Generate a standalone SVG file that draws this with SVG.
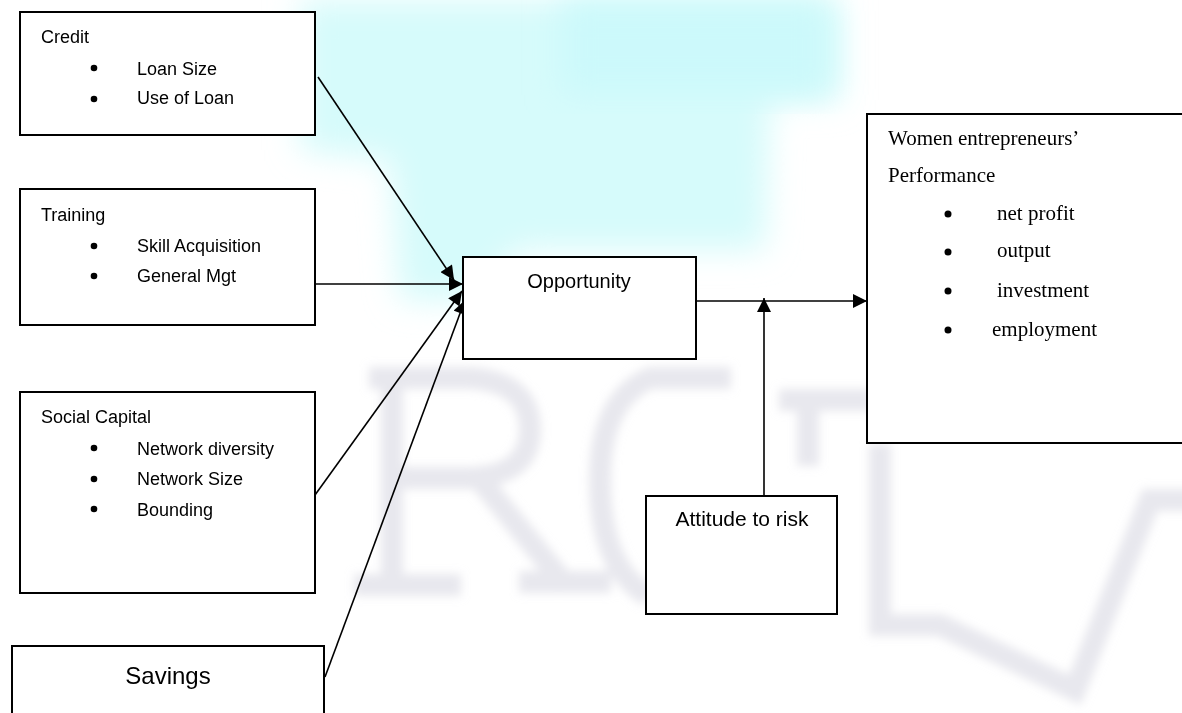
<svg xmlns="http://www.w3.org/2000/svg" width="1182" height="713" viewBox="0 0 1182 713">
<style>
.box{fill:#fff;stroke:#000;stroke-width:2}
.cal{font-family:"Liberation Sans",Arial,sans-serif;font-size:18px;fill:#000}
.big{font-size:24px}
.mid{font-size:20px}
.att{font-size:21px}
.tnr{font-family:"Liberation Serif","Times New Roman",serif;font-size:21px;fill:#000}
.bul{fill:#000}
.conn{stroke:#000;stroke-width:1.6;fill:none}
.wm{fill:none;stroke:#d6d6e0;stroke-width:22;stroke-linecap:square;opacity:0.55}
</style>
<defs>
<marker id="ah" viewBox="0 0 10 10" refX="10" refY="5" markerWidth="15" markerHeight="14" markerUnits="userSpaceOnUse" orient="auto">
<path d="M0,0 L10,5 L0,10 z" fill="#000"/>
</marker>
<filter id="blur" x="-20%" y="-20%" width="140%" height="140%"><feGaussianBlur stdDeviation="16"/></filter>
<filter id="blur2" x="-10%" y="-10%" width="120%" height="120%"><feGaussianBlur stdDeviation="5"/></filter>
</defs>
<rect width="1182" height="713" fill="#fff"/>
<g id="watermark">
<path d="M300,0 L840,0 L840,100 L770,100 L765,250 L520,250 L470,300 L400,300 L390,160 L300,150 z" fill="#d6fbfb" filter="url(#blur)"/>
<path d="M560,0 L830,0 L830,95 L560,95 z" fill="#ccf9fb" filter="url(#blur)"/>
<g filter="url(#blur2)">
<path class="wm" d="M392,385 L392,580 M365,585 L450,585 M380,378 L470,378 Q530,382 530,430 Q530,475 470,478 L405,478 M480,480 L560,578 M530,582 L600,582"/>
<path class="wm" d="M720,378 L650,378 Q600,400 600,480 Q600,560 640,590"/>
<path class="wm" d="M790,400 L860,400 M808,400 L808,455"/>
<path class="wm" d="M880,455 L880,625 L940,625 L1075,690 L1150,500 L1182,500"/>
</g>
</g>
<g id="connectors">
<line class="conn" x1="318" y1="77" x2="454" y2="280" marker-end="url(#ah)"/>
<line class="conn" x1="315" y1="284" x2="463" y2="284" marker-end="url(#ah)"/>
<line class="conn" x1="315" y1="495" x2="462" y2="291" marker-end="url(#ah)"/>
<line class="conn" x1="325" y1="677" x2="465" y2="300" marker-end="url(#ah)"/>
<line class="conn" x1="696" y1="301" x2="867" y2="301" stroke-width="2" marker-end="url(#ah)"/>
<line class="conn" x1="764" y1="496" x2="764" y2="298" marker-end="url(#ah)"/>
</g>
<g id="credit">
<rect class="box" x="20" y="12" width="295" height="123"/>
<text class="cal" x="41" y="43">Credit</text>
<circle class="bul" cx="94" cy="68" r="3.3"/>
<text class="cal" x="137" y="75">Loan Size</text>
<circle class="bul" cx="94" cy="99" r="3.3"/>
<text class="cal" x="137" y="104">Use of Loan</text>
</g>
<g id="training">
<rect class="box" x="20" y="189" width="295" height="136"/>
<text class="cal" x="41" y="221">Training</text>
<circle class="bul" cx="94" cy="246" r="3.3"/>
<text class="cal" x="137" y="252">Skill Acquisition</text>
<circle class="bul" cx="94" cy="276" r="3.3"/>
<text class="cal" x="137" y="282">General Mgt</text>
</g>
<g id="social-capital">
<rect class="box" x="20" y="392" width="295" height="201"/>
<text class="cal" x="41" y="423">Social Capital</text>
<circle class="bul" cx="94" cy="448" r="3.3"/>
<text class="cal" x="137" y="455">Network diversity</text>
<circle class="bul" cx="94" cy="479" r="3.3"/>
<text class="cal" x="137" y="485">Network Size</text>
<circle class="bul" cx="94" cy="509" r="3.3"/>
<text class="cal" x="137" y="516">Bounding</text>
</g>
<g id="savings">
<rect class="box" x="12" y="646" width="312" height="90"/>
<text class="cal big" x="168" y="684" text-anchor="middle">Savings</text>
</g>
<g id="opportunity">
<rect class="box" x="463" y="257" width="233" height="102"/>
<text class="cal mid" x="579" y="288" text-anchor="middle">Opportunity</text>
</g>
<g id="attitude">
<rect class="box" x="646" y="496" width="191" height="118"/>
<text class="cal att" x="742" y="526" text-anchor="middle">Attitude to risk</text>
</g>
<g id="performance">
<rect class="box" x="867" y="114" width="330" height="329"/>
<text class="tnr" x="888" y="145">Women entrepreneurs’</text>
<text class="tnr" x="888" y="182">Performance</text>
<circle class="bul" cx="948" cy="214" r="3.5"/>
<text class="tnr" x="997" y="220">net profit</text>
<circle class="bul" cx="948" cy="252" r="3.5"/>
<text class="tnr" x="997" y="257">output</text>
<circle class="bul" cx="948" cy="291" r="3.5"/>
<text class="tnr" x="997" y="297">investment</text>
<circle class="bul" cx="948" cy="330" r="3.5"/>
<text class="tnr" x="992" y="336">employment</text>
</g>
</svg>
